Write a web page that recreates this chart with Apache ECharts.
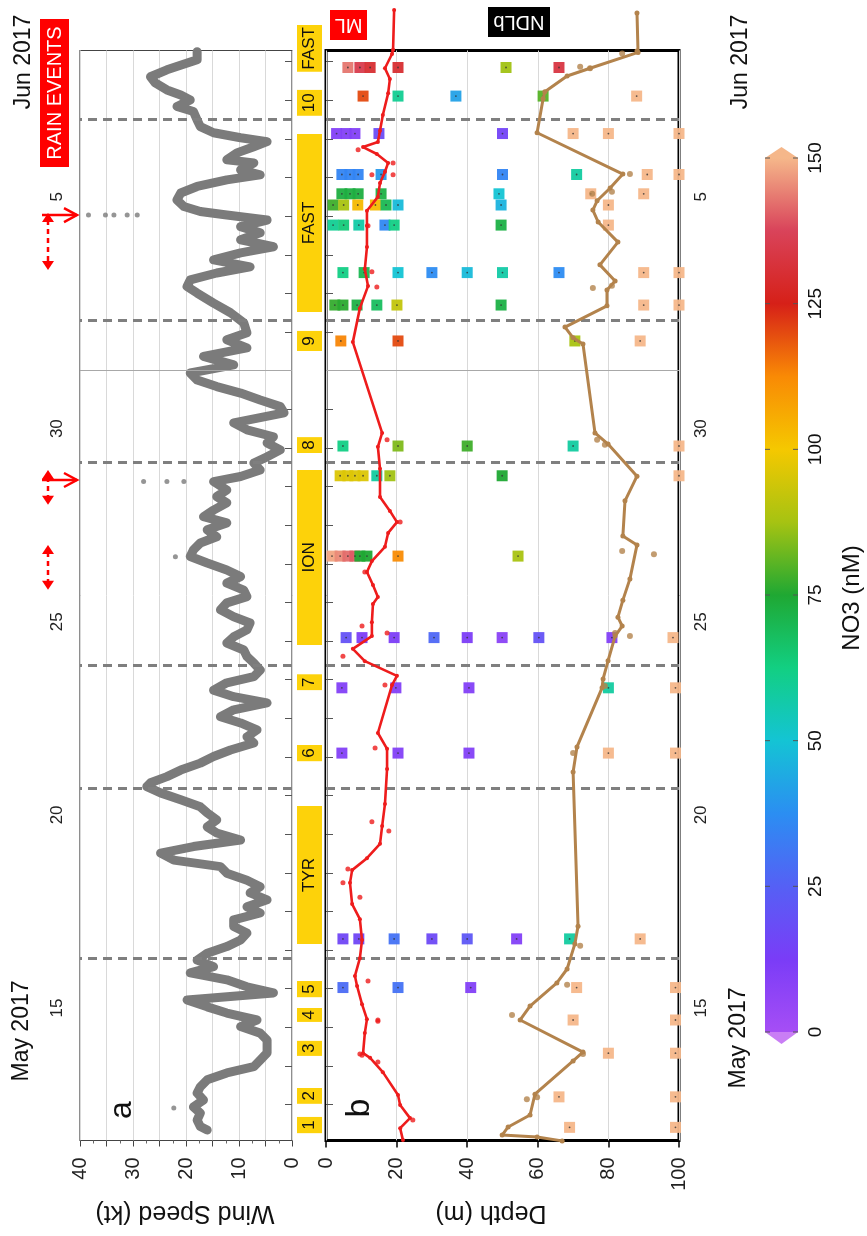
<!DOCTYPE html>
<html><head><meta charset="utf-8">
<script src="https://cdn.jsdelivr.net/npm/echarts@6/dist/echarts.min.js"></script>
<style>html,body{margin:0;padding:0;background:#fff;}#c{width:867px;height:1236px;}</style>
</head><body><div id="c"></div>
<script>
// ================= DATA (time = day of May 2017, fractional; 32 = 1 Jun 00:00) =================
const windTime = [12.34,12.43,12.60,12.78,12.94,13.12,13.30,13.46,13.64,13.82,13.98,14.15,14.34,14.50,14.67,14.85,15.02,15.19,15.37,15.53,15.71,15.89,16.05,16.23,16.41,16.57,16.74,16.92,17.09,17.26,17.44,17.61,17.78,17.96,18.12,18.30,18.48,18.64,18.81,18.99,19.16,19.33,19.51,19.68,19.85,20.03,20.19,20.37,20.55,20.71,20.89,21.07,21.23,21.33,21.49,21.66,21.84,22.01,22.18,22.36,22.52,22.70,22.88,23.04,23.22,23.40,23.56,23.73,23.92,24.08,24.25,24.43,24.60,24.77,24.95,25.11,25.29,25.47,25.63,25.81,25.99,26.15,26.32,26.50,26.67,26.84,27.02,27.19,27.36,27.54,27.70,27.88,28.06,28.22,28.39,28.58,28.74,28.91,29.13,29.26,29.43,29.61,29.77,29.95,30.13,30.29,30.47,30.65,30.91,31.07,31.24,31.42,31.59,31.76,31.94,32.15,32.37,32.59,32.80,32.98,33.24,33.50,33.75,34.01,34.18,34.35,34.53,34.69,34.87,35.05,35.21,35.39,35.57,35.73,35.90,36.03,36.12,36.25,36.42,36.60,36.77,36.94,37.07,37.20,37.38,37.46,37.64,37.80,37.93,38.03,38.16,38.32,38.49,38.71,38.84,39.01,39.14,39.27,39.45,39.61,39.79,40.05,40.26];
const windSpeed = [16.0,17.3,17.9,17.3,18.6,16.7,17.9,17.3,16.0,12.3,7.2,6.0,4.7,4.7,4.7,6.0,9.7,6.6,12.3,16.0,19.8,3.5,8.5,12.3,19.2,14.8,17.9,16.0,12.3,9.7,8.5,11.0,11.0,6.0,8.5,4.7,7.9,6.0,8.5,12.3,13.5,22.3,24.8,18.6,9.7,14.2,16.0,14.2,16.0,17.3,21.0,24.8,27.4,26.7,23.6,21.0,17.3,14.8,11.6,7.2,8.5,6.6,9.7,13.5,11.0,4.7,11.0,14.8,12.3,7.2,6.0,7.2,8.5,9.1,12.3,11.0,8.5,7.9,11.0,13.5,12.3,8.5,9.1,12.3,9.7,12.3,16.0,19.2,18.6,17.3,14.2,16.0,12.3,16.7,14.8,12.3,14.2,12.3,14.8,9.7,6.0,7.2,4.7,2.2,4.7,3.5,8.5,11.0,1.5,2.2,6.0,9.7,14.2,17.9,19.2,11.0,16.7,8.5,12.3,8.5,9.1,11.6,14.8,17.9,19.8,19.2,14.2,7.9,14.8,9.7,3.5,9.7,6.0,9.7,4.7,12.3,17.3,20.4,21.7,21.0,17.9,12.3,6.0,9.7,7.2,12.3,10.4,7.2,4.7,9.7,14.8,17.3,17.9,18.6,21.7,19.2,21.0,23.6,25.8,26.7,23.6,17.9,17.9];
const windOutliers = [[38.4,36.03],[35.2,36.03],[33.6,36.03],[31.1,36.03],[29.2,36.03],[28.0,29.13],[23.6,29.13],[20.4,29.13],[22.0,27.18],[22.3,12.91]]; // [kt, time]

// Mixed layer (ML) depth: [depth m, time]
const mlLine = [[21.8,12.08],[21.0,12.39],[23.8,12.65],[21.0,12.99],[20.4,13.25],[16.1,13.84],[12.5,14.21],[10.5,14.33],[11.0,14.85],[11.6,15.21],[10.2,15.60],[8.8,16.07],[8.2,16.33],[9.6,16.79],[10.2,17.26],[9.6,17.80],[7.4,18.19],[6.8,18.74],[7.4,19.07],[11.6,19.38],[15.3,19.75],[15.9,20.21],[16.7,20.78],[17.3,21.69],[17.3,22.21],[14.7,22.62],[18.7,23.86],[20.1,24.10],[11.0,24.48],[7.6,24.80],[13.0,25.13],[13.0,25.49],[13.3,25.96],[14.7,26.14],[13.3,26.45],[11.6,26.79],[13.0,27.07],[16.7,27.44],[17.6,27.80],[20.1,28.08],[18.1,28.37],[15.3,28.73],[15.3,29.46],[14.7,30.03],[15.9,30.39],[7.6,32.74],[9.6,33.62],[11.9,34.19],[11.0,34.63],[11.6,35.20],[11.6,35.75],[11.6,36.14],[14.7,36.50],[15.3,36.86],[16.7,37.15],[17.6,37.38],[14.4,37.61],[10.5,37.79],[14.7,37.92],[15.3,38.21],[16.1,38.62],[17.6,39.18],[18.1,39.55],[16.7,39.83],[18.7,40.20],[19.0,40.31],[19.3,41.34]];
const mlPoints = [[9.1,37.72],[19.0,37.38],[13.0,37.07],[19.0,37.07],[11.9,35.75],[13.0,34.56],[14.4,34.17],[17.3,30.21],[21.0,28.08],[11.0,26.79],[4.8,24.61],[10.2,25.39],[17.3,25.21],[16.7,23.86],[13.9,22.23],[13.0,20.32],[17.8,20.08],[4.8,18.74],[9.6,18.37],[6.2,19.10],[11.9,16.20],[14.7,15.19],[9.6,14.31],[24.6,12.60],[14.7,15.16],[10.2,14.28],[14.7,14.10]];

// Nitracline depth (NDLb): [depth m, time]
const ndlbLine = [[66.9,12.06],[59.8,12.16],[49.9,12.21],[51.6,12.42],[57.8,12.73],[59.2,13.27],[70.0,14.13],[72.8,14.36],[55.0,15.19],[57.8,15.55],[65.4,16.15],[68.3,16.51],[70.5,17.16],[71.4,17.62],[70.0,21.61],[71.1,22.26],[78.2,23.79],[78.5,24.02],[79.9,24.49],[81.9,25.13],[83.9,25.39],[82.7,25.62],[84.1,26.06],[86.1,26.61],[88.1,27.49],[84.1,27.72],[84.7,28.63],[88.1,29.27],[79.9,30.10],[76.2,30.39],[72.8,32.69],[70.0,32.85],[67.7,33.13],[79.6,33.68],[79.6,34.09],[81.9,34.32],[77.6,34.74],[82.7,35.33],[77.1,35.85],[75.6,36.16],[76.8,36.40],[80.5,36.73],[84.1,37.09],[59.8,38.16],[61.5,39.04],[62.0,39.22],[68.3,39.63],[74.8,39.83],[88.4,40.24],[88.1,40.28],[88.1,41.26]];
const ndlbPoints = [[75.4,36.58],[81.0,36.63],[75.6,34.14],[81.0,34.20],[76.8,30.21],[79.0,30.08],[83.9,27.33],[92.9,27.25],[86.1,37.09],[70.0,22.10],[79.0,23.84],[81.9,25.21],[86.1,25.13],[72.0,17.11],[68.3,16.10],[52.7,15.32],[56.9,13.14],[59.8,13.19],[72.8,14.31],[72.0,39.87],[74.8,39.83],[83.9,40.21]];

// NO3 samples: [time, depth m, NO3 nM]  (values >150 are above the colour scale)
const no3Samples = [
 [39.85,6.2,143],[39.85,9.6,135],[39.85,12.5,130],[39.85,20.4,130],[39.85,51,87],[39.85,66,133],
 [39.11,10.5,120],[39.11,20.4,60],[39.11,36.8,42],[39.11,61.5,80],[39.11,88,160],
 [38.14,3,10],[38.14,5.7,10],[38.14,8.2,10],[38.14,15,18],[38.14,50,15],[38.14,70,160],[38.14,80,160],[38.14,100,160],
 [37.08,4.5,35],[37.08,6.8,35],[37.08,9.1,35],[37.08,15.6,40],[37.08,50,35],[37.08,71,58],[37.08,91,160],[37.08,100,160],
 [36.58,4.5,73],[36.58,6.8,73],[36.58,9.1,73],[36.58,15.6,72],[36.58,49,50],[36.58,75,160],[36.58,90,160],
 [36.29,2,78],[36.29,5,88],[36.29,9,103],[36.29,14,103],[36.29,17,70],[36.29,20.4,48],[36.29,49.6,46],[36.29,80,160],
 [35.77,2,60],[35.77,5,64],[35.77,9.3,57],[35.77,16.7,36],[35.77,19.3,62],[35.77,49.6,72],[35.77,80,160],
 [34.54,4.8,62],[34.54,10.8,70],[34.54,20.4,50],[34.54,30,37],[34.54,40,48],[34.54,50,57],[34.54,66,37],[34.54,90,160],[34.54,100,160],
 [33.70,2.5,77],[33.70,4.8,76],[33.70,8.8,72],[33.70,14.4,68],[33.70,20.1,92],[33.70,49.6,72],[33.70,90,160],[33.70,100,160],
 [32.77,4.2,113],[32.77,20.4,120],[32.77,70.5,88],[32.77,89,160],
 [30.05,4.8,62],[30.05,20.4,84],[30.05,40,78],[30.05,70,58],[30.05,100,160],
 [29.28,4,96],[29.28,6.2,96],[29.28,8.2,96],[29.28,10.5,96],[29.28,14.4,58],[29.28,18.1,87],[29.28,49.9,75],[29.28,100,160],
 [27.20,1.7,148],[27.20,4,145],[27.20,6.2,142],[27.20,8.2,140],[27.20,9.6,75],[27.20,11.6,75],[27.20,20.4,112],[27.20,54.4,88],
 [25.09,5.7,20],[25.09,10.2,12],[25.09,19.3,12],[25.09,30.6,27],[25.09,40,12],[25.09,49.9,8],[25.09,60.3,20],[25.09,81,10],[25.09,98.3,160],
 [23.79,4.5,10],[23.79,19.8,10],[23.79,40.5,10],[23.79,80,58],[23.79,99,160],
 [22.10,4.5,10],[22.10,20.4,10],[22.10,40.5,10],[22.10,80,160],[22.10,99,160],
 [17.29,4.8,16],[17.29,9.3,16],[17.29,19.3,30],[17.29,30,17],[17.29,40,22],[17.29,54,10],[17.29,69,58],[17.29,89,160],
 [16.03,4.8,28],[16.03,20.4,30],[16.03,41,10],[16.03,71,160],[16.03,99,160],
 [15.19,70,160],[15.19,99,160],
 [14.33,80,160],[14.33,99,160],
 [13.20,66,160],[13.20,99,160],
 [12.41,69,160],[12.41,99,160]
];

// Station / cruise-phase labels: [start time, end time, label]
const stationLabels = [[39.74,40.95,'FAST'],[38.60,39.27,'10'],[33.52,38.13,'FAST'],[32.51,33.03,'9'],[29.87,30.28,'8'],[24.90,29.43,'ION'],[23.73,24.14,'7'],[21.89,22.31,'6'],[17.16,20.73,'TYR'],[15.78,16.20,'5'],[15.14,15.50,'4'],[14.26,14.65,'3'],[13.02,13.43,'2'],[12.26,12.68,'1']];
const eventLines = [16.79, 21.2, 24.38, 29.64, 33.31, 38.52];
const monthBoundary = 32;
const rainArrowTimes = [36.03, 29.17];
const rainSpans = [[34.61, 36.08], [28.53, 29.43], [26.33, 27.49]];

const timeRange = [12.07, 40.29];
const dayTicks = [13,14,15,16,17,18,19,20,21,22,23,24,25,26,27,28,29,30,31,32,33,34,35,36,37,38,39,40];
const timeLabelPos = [15.5, 20.5, 25.5, 30.5, 36.5];
const timeLabelText = ['15', '20', '25', '30', '5'];
const windTicks = [0, 10, 20, 30, 40];
const depthTicks = [0, 20, 40, 60, 80, 100];
const no3Ticks = [0, 25, 50, 75, 100, 125, 150];
const no3Colors = ['#a64ef5','#7a3cf7','#5560f5','#2b8ef2','#14c4d4','#12cf82','#1fa833','#a6c312','#f5c800','#f98a05','#d62018','#d9435a','#f5b78a'];

// ================= CHART =================
const FF = '"Liberation Sans", Arial, Helvetica, sans-serif';
const chart = echarts.init(document.getElementById('c'), null, {renderer: 'canvas'});

function timeLabel(v) {
  for (let i = 0; i < timeLabelPos.length; i++) if (Math.abs(timeLabelPos[i] - v) < 0.01) return timeLabelText[i];
  return '';
}
function timeAxis(gridIndex, position, show) {
  return {
    type: 'value', gridIndex, position, min: timeRange[0], max: timeRange[1],
    show: show,
    axisLine: {show: false},
    axisTick: {show: true, length: 7, lineStyle: {color: '#555', width: 1}, customValues: dayTicks},
    axisLabel: {show: true, customValues: timeLabelPos, formatter: timeLabel, rotate: 90, fontSize: 17, color: '#222', fontFamily: FF, margin: 14},
    splitLine: {show: false}
  };
}
const dashStyle = {type: [9, 6], color: '#7f7f7f', width: 3};
function eventMarkLines() {
  return {
    silent: true, symbol: ['none', 'none'], animation: false, label: {show: false},
    data: eventLines.map(v => ({yAxis: v, lineStyle: dashStyle}))
      .concat([{yAxis: monthBoundary, lineStyle: {type: 'solid', color: '#a8a8a8', width: 1}}])
  };
}

const option = {
  animation: false,
  backgroundColor: '#fff',
  grid: [
    {left: 80, top: 50.5, width: 212, height: 1090, show: true, borderColor: '#444', borderWidth: 1.2, backgroundColor: 'transparent'},
    {left: 326, top: 50.5, width: 353, height: 1090, show: true, borderColor: '#000', borderWidth: 3, backgroundColor: 'transparent'},
    {left: 297, top: 50.5, width: 25, height: 1090, show: false}
  ],
  xAxis: [
    {type: 'value', gridIndex: 0, min: 0, max: 40, interval: 5, inverse: true, position: 'bottom',
     axisLine: {show: false},
     axisTick: {show: true, length: 6, lineStyle: {color: '#444'}},
     minorTick: {show: true, splitNumber: 2, length: 3, lineStyle: {color: '#666'}},
     axisLabel: {rotate: 90, fontSize: 20, color: '#222', fontFamily: FF, margin: 17, formatter: v => windTicks.indexOf(v) >= 0 ? String(v) : ''},
     splitLine: {show: true, lineStyle: {color: '#d9d9d9', width: 1}}},
    {type: 'value', gridIndex: 1, min: 0, max: 100, interval: 20, position: 'bottom',
     axisLine: {show: false},
     axisTick: {show: true, length: 7, lineStyle: {color: '#000', width: 1.5}},
     axisLabel: {rotate: 90, fontSize: 20, color: '#222', fontFamily: FF, margin: 17, formatter: v => depthTicks.indexOf(v) >= 0 ? String(v) : ''},
     splitLine: {show: true, lineStyle: {color: '#d9d9d9', width: 1}}},
    {type: 'value', gridIndex: 2, min: 0, max: 1, show: false}
  ],
  yAxis: [
    timeAxis(0, 'left', true),
    timeAxis(1, 'right', true),
    {type: 'value', gridIndex: 2, min: timeRange[0], max: timeRange[1], show: false}
  ],
  visualMap: [{
    type: 'continuous', show: false, min: 0, max: 150, dimension: 2, seriesIndex: [2],
    inRange: {color: no3Colors}, outOfRange: {color: '#f9c49c'}
  }],
  series: [
    {type: 'line', name: 'wind', xAxisIndex: 0, yAxisIndex: 0, showSymbol: false, symbol: 'none',
     data: windTime.map((t, i) => [windSpeed[i], t]),
     lineStyle: {color: '#7b7b7b', width: 9, cap: 'round', join: 'round'},
     markLine: eventMarkLines(), z: 3},
    {type: 'scatter', xAxisIndex: 0, yAxisIndex: 0, data: windOutliers, symbolSize: 5, itemStyle: {color: '#7b7b7b'}, z: 3},
    {type: 'scatter', name: 'no3', xAxisIndex: 1, yAxisIndex: 1, symbol: 'rect', symbolSize: 11,
     data: no3Samples.map(s => [s[1], s[0], s[2]]), itemStyle: {opacity: 0.95}, z: 2},
    {type: 'scatter', xAxisIndex: 1, yAxisIndex: 1, symbol: 'circle', symbolSize: 1.8,
     data: no3Samples.map(s => [s[1], s[0]]), itemStyle: {color: '#333'}, z: 3, silent: true},
    {type: 'line', name: 'ML', xAxisIndex: 1, yAxisIndex: 1, data: mlLine, clip: false,
     symbol: 'circle', symbolSize: 4, showSymbol: true,
     lineStyle: {color: '#ee1c1c', width: 2.6}, itemStyle: {color: '#ee1c1c'},
     markLine: eventMarkLines(), z: 5},
    {type: 'scatter', xAxisIndex: 1, yAxisIndex: 1, data: mlPoints, symbolSize: 5, itemStyle: {color: '#ee1c1c'}, z: 5},
    {type: 'line', name: 'NDLb', xAxisIndex: 1, yAxisIndex: 1, data: ndlbLine, clip: false,
     symbol: 'circle', symbolSize: 5, showSymbol: true,
     lineStyle: {color: '#b3834c', width: 3}, itemStyle: {color: '#b3834c'}, z: 5},
    {type: 'scatter', xAxisIndex: 1, yAxisIndex: 1, data: ndlbPoints, symbolSize: 6, itemStyle: {color: '#b3834c'}, z: 5},
    {type: 'custom', xAxisIndex: 2, yAxisIndex: 2, clip: false, z: 4,
     data: stationLabels.map(s => [s[0], s[1]]),
     renderItem: function (params, api) {
       const lo = api.value(0), hi = api.value(1);
       const p0 = api.coord([0, hi]);
       const p1 = api.coord([1, lo]);
       const label = stationLabels[params.dataIndex][2];
       return {type: 'group', children: [
         {type: 'rect', shape: {x: p0[0], y: p0[1], width: p1[0] - p0[0], height: p1[1] - p0[1]}, style: {fill: '#fdd20a'}},
         {type: 'text', x: (p0[0] + p1[0]) / 2, y: (p0[1] + p1[1]) / 2, rotation: Math.PI / 2,
          style: {text: label, fill: '#111', font: '17px ' + FF, align: 'center', verticalAlign: 'middle', textAlign: 'center', textVerticalAlign: 'middle'}}
       ]};
     }}
  ]
};
chart.setOption(option);

// ================= ANNOTATIONS (legend, titles, rain arrows) =================
function txt(x, y, text, size, rot, color) {
  return {type: 'text', x: x, y: y, rotation: rot, silent: true, z: 100,
    style: {text: text, fill: color || '#111', font: size + 'px ' + FF, align: 'center', verticalAlign: 'middle', textAlign: 'center', textVerticalAlign: 'middle'}};
}
const els = [];
const R90 = Math.PI / 2, R180 = Math.PI;
els.push({type: 'rect', shape: {x: 40, y: 19, width: 29, height: 148}, style: {fill: '#ff0000'}, silent: true, z: 99});
els.push(txt(55, 93, 'RAIN EVENTS', 20, R90, '#fff'));
els.push({type: 'rect', shape: {x: 330, y: 10, width: 37, height: 30}, style: {fill: '#ff0000'}, silent: true, z: 99});
els.push(txt(348.5, 25, 'ML', 20, R180, '#fff'));
els.push({type: 'rect', shape: {x: 488, y: 7, width: 62, height: 30}, style: {fill: '#000'}, silent: true, z: 99});
els.push(txt(519, 22, 'NDLb', 20, R180, '#fff'));
els.push(txt(122, 1110, 'a', 32, R90));
els.push(txt(360, 1108, 'b', 34, R90));
els.push(txt(185, 1213, 'Wind Speed (kt)', 25, R180));
els.push(txt(491, 1213, 'Depth (m)', 25, R180));
els.push(txt(24, 62, 'Jun 2017', 23, R90));
els.push(txt(22, 1031, 'May 2017', 23, R90));
els.push(txt(741, 62, 'Jun 2017', 23, R90));
els.push(txt(739, 1038, 'May 2017', 23, R90));

// colour bar
const CB = {x: 765, w: 33, top: 158, bottom: 1032};
els.push({type: 'rect', silent: true, z: 90, shape: {x: CB.x, y: CB.top, width: CB.w, height: CB.bottom - CB.top},
  style: {fill: new echarts.graphic.LinearGradient(0, 1, 0, 0, no3Colors.map((c, i) => ({offset: i / (no3Colors.length - 1), color: c})))}});
els.push({type: 'polygon', silent: true, z: 90, shape: {points: [[CB.x, CB.top], [CB.x + CB.w, CB.top], [CB.x + CB.w / 2, CB.top - 11]]}, style: {fill: no3Colors[no3Colors.length - 1]}});
els.push({type: 'polygon', silent: true, z: 90, shape: {points: [[CB.x, CB.bottom], [CB.x + CB.w, CB.bottom], [CB.x + CB.w / 2, CB.bottom + 12]]}, style: {fill: '#c97ef5'}});
no3Ticks.forEach(v => {
  const y = CB.bottom - v / 150 * (CB.bottom - CB.top);
  els.push({type: 'line', silent: true, z: 91, shape: {x1: CB.x, y1: y, x2: CB.x + 5, y2: y}, style: {stroke: '#555', lineWidth: 1}});
  els.push({type: 'line', silent: true, z: 91, shape: {x1: CB.x + CB.w - 5, y1: y, x2: CB.x + CB.w, y2: y}, style: {stroke: '#555', lineWidth: 1}});
  els.push(txt(815.5, y, String(v), 19, R90));
});
els.push(txt(852, 598, 'NO3 (nM)', 24, R90));

// rain-event arrows placed through the time axis
const yOf = t => chart.convertToPixel({yAxisIndex: 0}, t);
rainArrowTimes.forEach(t => {
  const y = yOf(t);
  els.push({type: 'line', silent: true, z: 95, shape: {x1: 42, y1: y, x2: 77, y2: y}, style: {stroke: '#ff0000', lineWidth: 2.5}});
  els.push({type: 'polyline', silent: true, z: 95, shape: {points: [[64, y - 7], [77, y], [64, y + 7]]}, style: {stroke: '#ff0000', lineWidth: 2.5, fill: null}});
});
rainSpans.forEach(s => {
  const yTop = yOf(s[1]), yBot = yOf(s[0]);
  const x = 48;
  els.push({type: 'line', silent: true, z: 95, shape: {x1: x, y1: yTop + 7, x2: x, y2: yBot - 7}, style: {stroke: '#ff0000', lineWidth: 2.5, lineDash: [5, 4]}});
  els.push({type: 'polygon', silent: true, z: 95, shape: {points: [[x - 6, yTop + 9], [x + 6, yTop + 9], [x, yTop]]}, style: {fill: '#ff0000'}});
  els.push({type: 'polygon', silent: true, z: 95, shape: {points: [[x - 6, yBot - 9], [x + 6, yBot - 9], [x, yBot]]}, style: {fill: '#ff0000'}});
});
chart.setOption({graphic: {elements: els}});
</script>
</body></html>
